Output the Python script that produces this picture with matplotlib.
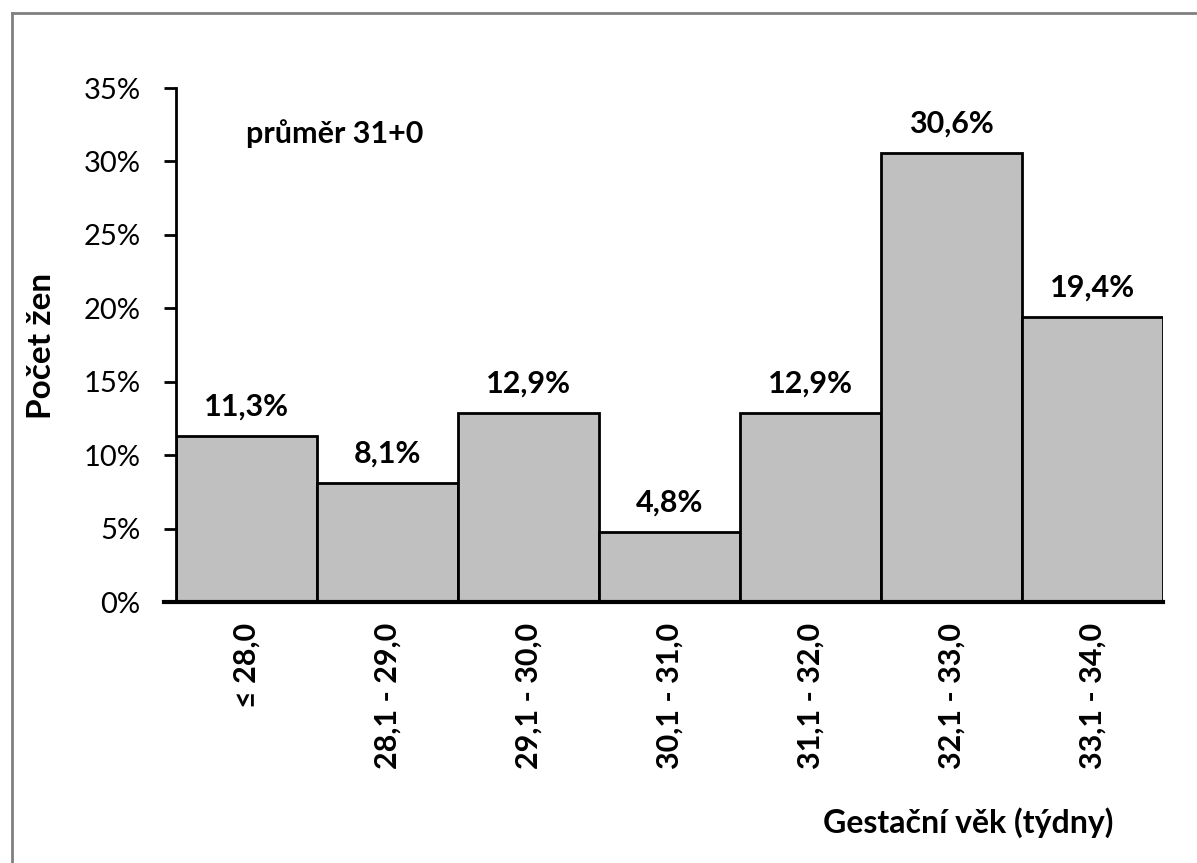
import numpy as np
import matplotlib
matplotlib.use("Agg")
import matplotlib.pyplot as plt
from matplotlib.lines import Line2D
from matplotlib.ticker import FuncFormatter

plt.rcParams['font.family'] = ['Lato', 'DejaVu Sans']

# data
categories = ["\u2264 28,0", "28,1 - 29,0", "29,1 - 30,0", "30,1 - 31,0",
              "31,1 - 32,0", "32,1 - 33,0", "33,1 - 34,0"]
values = [11.3, 8.1, 12.9, 4.8, 12.9, 30.6, 19.4]
yticks = [0, 5, 10, 15, 20, 25, 30, 35]

fig = plt.figure(figsize=(11.97, 8.63), dpi=100)
ax = fig.add_axes([0.147, 0.3024, 0.8246, 0.5956])

x = np.arange(len(categories))
ax.bar(x, values, width=1.0, color="#c0c0c0", edgecolor="black", linewidth=2)

for xi, v in zip(x, values):
    ax.annotate("{:.1f}%".format(v).replace(".", ","), (xi, v),
                xytext=(0, 11), textcoords="offset points",
                ha="center", va="bottom", fontsize=22, fontweight="bold")

ax.set_xlim(-0.5, len(categories) - 0.5)
ax.set_ylim(0, 35)
ax.set_yticks(yticks)
ax.yaxis.set_major_formatter(FuncFormatter(lambda v, p: "{:d}%".format(int(v))))
ax.set_xticks(x)
ax.set_xticklabels(categories, rotation=90, fontsize=22, fontweight="bold",
                   va="top", ha="center")
ax.tick_params(axis="x", length=0, pad=15)
ax.tick_params(axis="y", length=8.5, width=2, labelsize=21, pad=17)

for s in ["top", "right"]:
    ax.spines[s].set_visible(False)
ax.spines["left"].set_linewidth(2)
ax.spines["bottom"].set_linewidth(3)
ax.spines["bottom"].set_bounds(-0.5 - 0.085, len(categories) - 0.5)

ax.text(0.071, 0.912, "pr\u016fm\u011br 31+0", transform=ax.transAxes,
        fontsize=22, fontweight="bold", ha="left", va="center")

fig.text(42 / 1197, 1 - 346 / 863, "Po\u010det \u017een", rotation=90,
         fontsize=24, fontweight="bold", ha="center", va="center")
fig.text(1113 / 1197, 1 - 823 / 863, "Gesta\u010dn\u00ed v\u011bk (t\u00fddny)",
         fontsize=23, fontweight="bold", ha="right", va="center")

# outer frame (top and left edges visible)
fig.add_artist(Line2D([12 / 1197, 12 / 1197], [0, 1 - 13 / 863],
                      transform=fig.transFigure, color="#808080", linewidth=2))
fig.add_artist(Line2D([12 / 1197, 1], [1 - 13 / 863, 1 - 13 / 863],
                      transform=fig.transFigure, color="#808080", linewidth=2))

fig.savefig("out.png", dpi=100)
